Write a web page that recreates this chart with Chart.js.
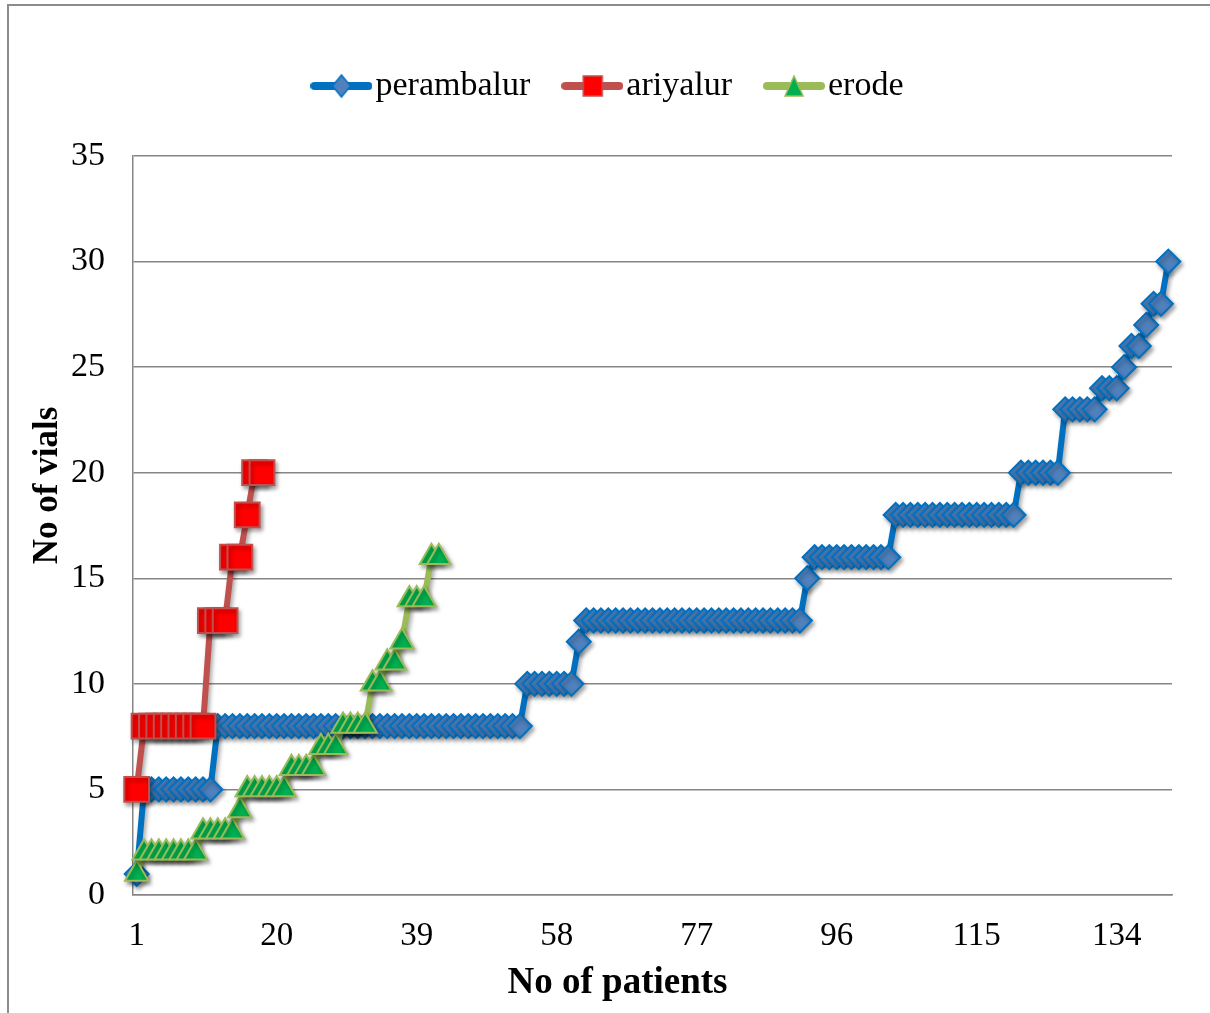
<!DOCTYPE html>
<html>
<head>
<meta charset="utf-8">
<script src="https://cdn.jsdelivr.net/npm/chart.js@4.4.0/dist/chart.umd.min.js"></script>
<style>
  html, body { margin: 0; padding: 0; background: #fff; }
  #wrap { position: relative; width: 1210px; height: 1013px; overflow: hidden; }
  #frame { position: absolute; left: 7px; top: 4px; width: 1300px; height: 1100px;
           border-left: 2px solid #8c8c8c; border-top: 2px solid #8c8c8c; }
  canvas { position: absolute; left: 0; top: 0; }
</style>
</head>
<body>
<div id="wrap">
  <div id="frame"></div>
  <canvas id="myChart" width="1210" height="1013"></canvas>
</div>
<script>
// number of patients on the x axis (1..141)
var patientCount = 141;
var patients = [];
for (var n = 1; n <= patientCount; n++) patients.push(String(n));

var perambalur = [
  1, 5, 5, 5, 5, 5, 5, 5, 5, 5,
  5, 8, 8, 8, 8, 8, 8, 8, 8, 8,
  8, 8, 8, 8, 8, 8, 8, 8, 8, 8,
  8, 8, 8, 8, 8, 8, 8, 8, 8, 8,
  8, 8, 8, 8, 8, 8, 8, 8, 8, 8,
  8, 8, 8, 10, 10, 10, 10, 10, 10, 10,
  12, 13, 13, 13, 13, 13, 13, 13, 13, 13,
  13, 13, 13, 13, 13, 13, 13, 13, 13, 13,
  13, 13, 13, 13, 13, 13, 13, 13, 13, 13,
  13, 15, 16, 16, 16, 16, 16, 16, 16, 16,
  16, 16, 16, 18, 18, 18, 18, 18, 18, 18,
  18, 18, 18, 18, 18, 18, 18, 18, 18, 18,
  20, 20, 20, 20, 20, 20, 23, 23, 23, 23,
  23, 24, 24, 24, 25, 26, 26, 27, 28, 28,
  30
];
var ariyalur = [5, 8, 8, 8, 8, 8, 8, 8, 8, 8, 13, 13, 13, 16, 16, 18, 20, 20];
var erode = [
  1, 2, 2, 2, 2, 2, 2, 2, 2, 3,
  3, 3, 3, 3, 4, 5, 5, 5, 5, 5,
  5, 6, 6, 6, 6, 7, 7, 7, 8, 8,
  8, 8, 10, 10, 11, 11, 12, 14, 14, 14,
  16, 16
];

var yTicks = [0, 5, 10, 15, 20, 25, 30, 35];
var labelEvery = 19;

var serif = 'Liberation Serif, Times New Roman, serif';

// little line + marker pictures for the legend
function legendIcon(lineColor, fill, border, shape) {
  var c = document.createElement('canvas');
  c.width = 62; c.height = 30;
  var g = c.getContext('2d');
  g.strokeStyle = lineColor; g.lineWidth = 8; g.lineCap = 'round';
  g.beginPath(); g.moveTo(4, 15); g.lineTo(58, 15); g.stroke();
  g.fillStyle = fill; g.strokeStyle = border; g.lineWidth = 1.5;
  g.beginPath();
  if (shape == 'diamond') {
    g.moveTo(31, 4); g.lineTo(40, 15); g.lineTo(31, 26); g.lineTo(22, 15);
  } else if (shape == 'square') {
    g.rect(22, 5, 19, 20);
  } else {
    g.moveTo(31, 5); g.lineTo(40, 25); g.lineTo(22, 25);
  }
  g.closePath(); g.fill(); g.stroke();
  return c;
}
var icons = [
  legendIcon('#0070C0', '#4F81BD', '#0070C0', 'diamond'),
  legendIcon('#C0504D', '#FF0000', '#C0504D', 'square'),
  legendIcon('#9BBB59', '#00B050', '#9BBB59', 'triangle')
];

// the Excel original centres legend and axis titles on the whole frame, not the plot
var legendShiftX = 28;
var titleShift = { x: { dx: -35, dy: 0 }, y: { dx: 0, dy: -40 } };

var excelPlugin = {
  id: 'excelLook',
  beforeInit: function (chart) {
    var lg = chart.legend;
    var fit = lg.fit;
    lg.fit = function () {
      fit.call(this);
      this.height = 132;
    };
    var draw = lg.draw;
    lg.draw = function () {
      this.ctx.save();
      this.ctx.translate(legendShiftX, 0);
      draw.apply(this, arguments);
      this.ctx.restore();
    };
  },
  afterUpdate: function (chart) {
    ['x', 'y'].forEach(function (id) {
      var s = chart.scales[id];
      if (!s || s._titleShifted) return;
      var orig = s.drawTitle;
      s.drawTitle = function () {
        this.ctx.save();
        this.ctx.translate(titleShift[id].dx, titleShift[id].dy);
        orig.apply(this, arguments);
        this.ctx.restore();
      };
      s._titleShifted = true;
    });
  },
  beforeDatasetsDraw: function (chart) {
    var c = chart.ctx;
    c.save();
    c.shadowColor = 'rgba(0,0,0,0.35)';
    c.shadowBlur = 4;
    c.shadowOffsetX = 2;
    c.shadowOffsetY = 3;
  },
  afterDatasetsDraw: function (chart) {
    chart.ctx.restore();
  }
};

var ctx = document.getElementById('myChart').getContext('2d');
var graphData = {
  type: 'line',
  data: {
    labels: patients,
    datasets: [{
      label: 'perambalur',
      data: perambalur,
      borderColor: '#0070C0',
      borderWidth: 6,
      pointStyle: 'rectRot',
      pointRadius: 12,
      pointBackgroundColor: '#4F81BD',
      pointBorderColor: '#0070C0',
      pointBorderWidth: 2,
      tension: 0,
      clip: false,
      order: 3
    }, {
      label: 'ariyalur',
      data: ariyalur,
      borderColor: '#C0504D',
      borderWidth: 6,
      pointStyle: 'rect',
      pointRadius: 17.5,
      pointBackgroundColor: '#FF0000',
      pointBorderColor: '#C0504D',
      pointBorderWidth: 2,
      tension: 0,
      clip: false,
      order: 2
    }, {
      label: 'erode',
      data: erode,
      borderColor: '#9BBB59',
      borderWidth: 6,
      pointStyle: 'triangle',
      pointRadius: 13.5,
      pointBackgroundColor: '#00B050',
      pointBorderColor: '#9BBB59',
      pointBorderWidth: 2,
      tension: 0,
      clip: false,
      order: 1
    }]
  },
  options: {
    responsive: false,
    animation: false,
    layout: { padding: { top: 24, right: 38, left: 0, bottom: 0 } },
    plugins: {
      tooltip: { enabled: false },
      legend: {
        position: 'top',
        labels: {
          usePointStyle: true,
          pointStyleWidth: 34,
          boxHeight: 30,
          padding: 45,
          color: '#000',
          font: { family: serif, size: 34 },
          generateLabels: function (chart) {
            return chart.data.datasets.map(function (ds, i) {
              return {
                text: ds.label, pointStyle: icons[i], datasetIndex: i,
                fillStyle: 'transparent', strokeStyle: 'transparent', lineWidth: 0,
                fontColor: '#000', hidden: false
              };
            });
          }
        }
      }
    },
    scales: {
      x: {
        offset: true,
        grid: { display: false, drawTicks: false },
        border: { display: true, color: '#868686', width: 1.5 },
        ticks: {
          autoSkip: false, maxRotation: 0, minRotation: 0, padding: 22,
          color: '#000', font: { family: serif, size: 33 },
          callback: function (v, i) { return i % labelEvery === 0 ? this.getLabelForValue(v) : ''; }
        },
        title: {
          display: true, text: 'No of patients', color: '#000',
          font: { family: serif, size: 37, weight: 'bold' },
          padding: { top: 0, bottom: 7 }
        },
        afterFit: function (scale) { scale.height = 118; }
      },
      y: {
        min: yTicks[0],
        max: yTicks[yTicks.length - 1],
        afterBuildTicks: function (scale) {
          scale.ticks = yTicks.map(function (v) { return { value: v }; });
        },
        grid: { color: '#868686', lineWidth: 1.5, drawTicks: false },
        border: { color: '#868686', width: 1.5 },
        ticks: { padding: 28, color: '#000', font: { family: serif, size: 34 } },
        title: {
          display: true, text: 'No of vials', color: '#000',
          font: { family: serif, size: 35, weight: 'bold' },
          padding: { top: 27, bottom: 0 }
        },
        afterFit: function (scale) { scale.width = 133; }
      }
    }
  },
  plugins: [excelPlugin]
};

var myChart = new Chart(ctx, graphData);
</script>
</body>
</html>
